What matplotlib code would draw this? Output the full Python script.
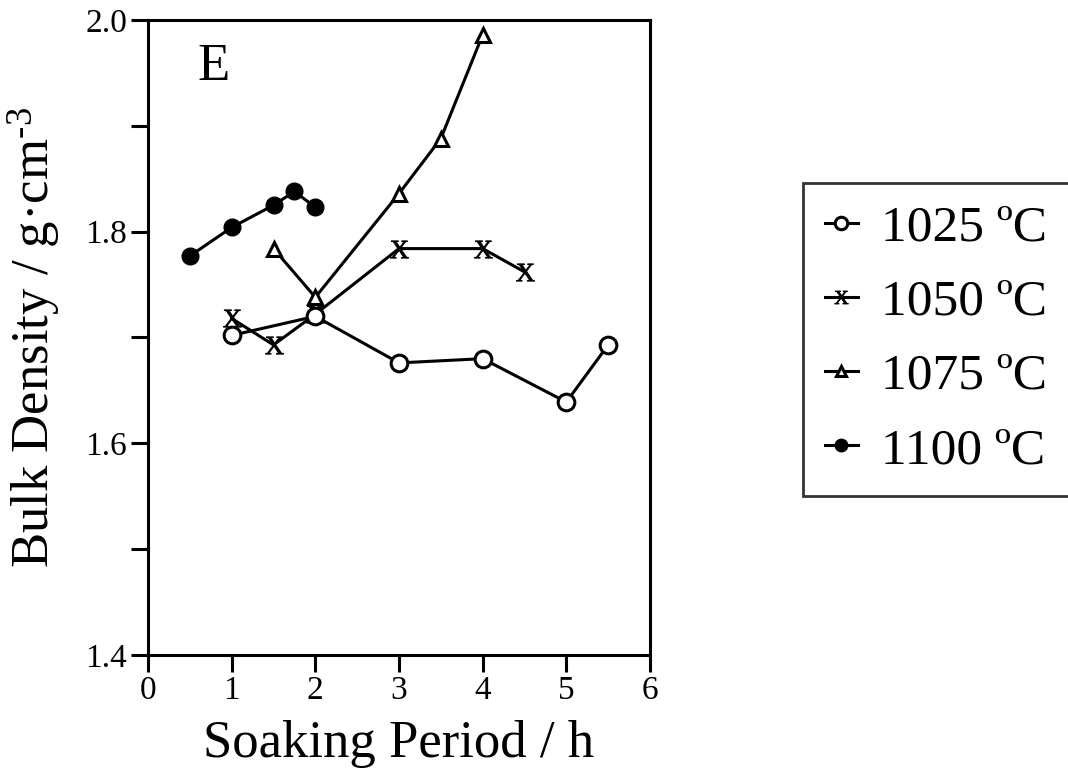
import matplotlib
matplotlib.use("Agg")
import matplotlib.pyplot as plt
from matplotlib.ticker import MultipleLocator

plt.rcParams['font.family'] = ['Liberation Serif', 'DejaVu Serif']
plt.rcParams['mathtext.fontset'] = 'custom'
plt.rcParams['mathtext.rm'] = 'Liberation Serif'
plt.rcParams['mathtext.it'] = 'Liberation Serif:italic'

# Data
x_1025 = [1, 2, 3, 4, 5, 5.5]
y_1025 = [1.702, 1.720, 1.676, 1.680, 1.639, 1.693]
x_1050 = [1, 1.5, 2, 3, 4, 4.5]
y_1050 = [1.718, 1.693, 1.722, 1.784, 1.784, 1.762]
x_1075 = [1.5, 2, 3, 3.5, 4]
y_1075 = [1.784, 1.738, 1.836, 1.888, 1.986]
x_1100 = [0.5, 1, 1.5, 1.75, 2]
y_1100 = [1.777, 1.804, 1.825, 1.838, 1.823]

labels = ['1025 ºC', '1050 ºC', '1075 ºC', '1100 ºC']
x_ticks = [0, 1, 2, 3, 4, 5, 6]
y_ticks = [1.4, 1.6, 1.8, 2.0]

fig = plt.figure(figsize=(10.68, 7.78), dpi=100)
ax = fig.add_axes([148/1068, 1-655/778, (650-148)/1068, (655-20)/778])

lw = 2.2
ax.plot(x_1025, y_1025, '-o', color='black', lw=lw, ms=12, mfc='white', mec='black', mew=2.2, label=labels[0], zorder=3)
ax.plot(x_1050, y_1050, '-', marker=r'$\mathrm{X}$', color='black', lw=lw, ms=13, mec='black', mew=0.6, label=labels[1], zorder=2)
ax.plot(x_1075, y_1075, '-^', color='black', lw=lw, ms=10, mfc='white', mec='black', mew=2.2, label=labels[2], zorder=2)
ax.plot(x_1100, y_1100, '-o', color='black', lw=lw, ms=12, mfc='black', mec='black', label=labels[3], zorder=3)

ax.set_xlim(0, 6)
ax.set_ylim(1.4, 2.0)
ax.set_xticks(x_ticks)
ax.set_yticks(y_ticks)
ax.set_yticklabels(['%.1f' % v for v in y_ticks])
ax.yaxis.set_minor_locator(MultipleLocator(0.1))
ax.tick_params(axis='both', which='both', direction='out', length=12, width=2.2, labelsize=24, colors='black')
ax.tick_params(axis='y', which='both', pad=3)
ax.tick_params(axis='x', pad=3)
for s in ax.spines.values():
    s.set_linewidth(2.2)

ax.set_xlabel('Soaking Period / h', fontsize=38, labelpad=10)
ax.set_ylabel('Bulk Density / g·cm$^{\u20103}$', fontsize=38, labelpad=16)

ax.text(0.098, 0.926, 'E', transform=ax.transAxes, fontsize=38, va='center', ha='left')

leg = fig.legend(loc='upper left', bbox_to_anchor=(803/1068, 1-183/778), borderaxespad=0,
                 fontsize=37, frameon=True, fancybox=False, edgecolor='black',
                 handlelength=0.65, handletextpad=0.45, labelspacing=0.53, borderpad=0.42, markerscale=0.75)
leg.get_frame().set_linewidth(2.0)

fig.savefig('out.png', dpi=100)
